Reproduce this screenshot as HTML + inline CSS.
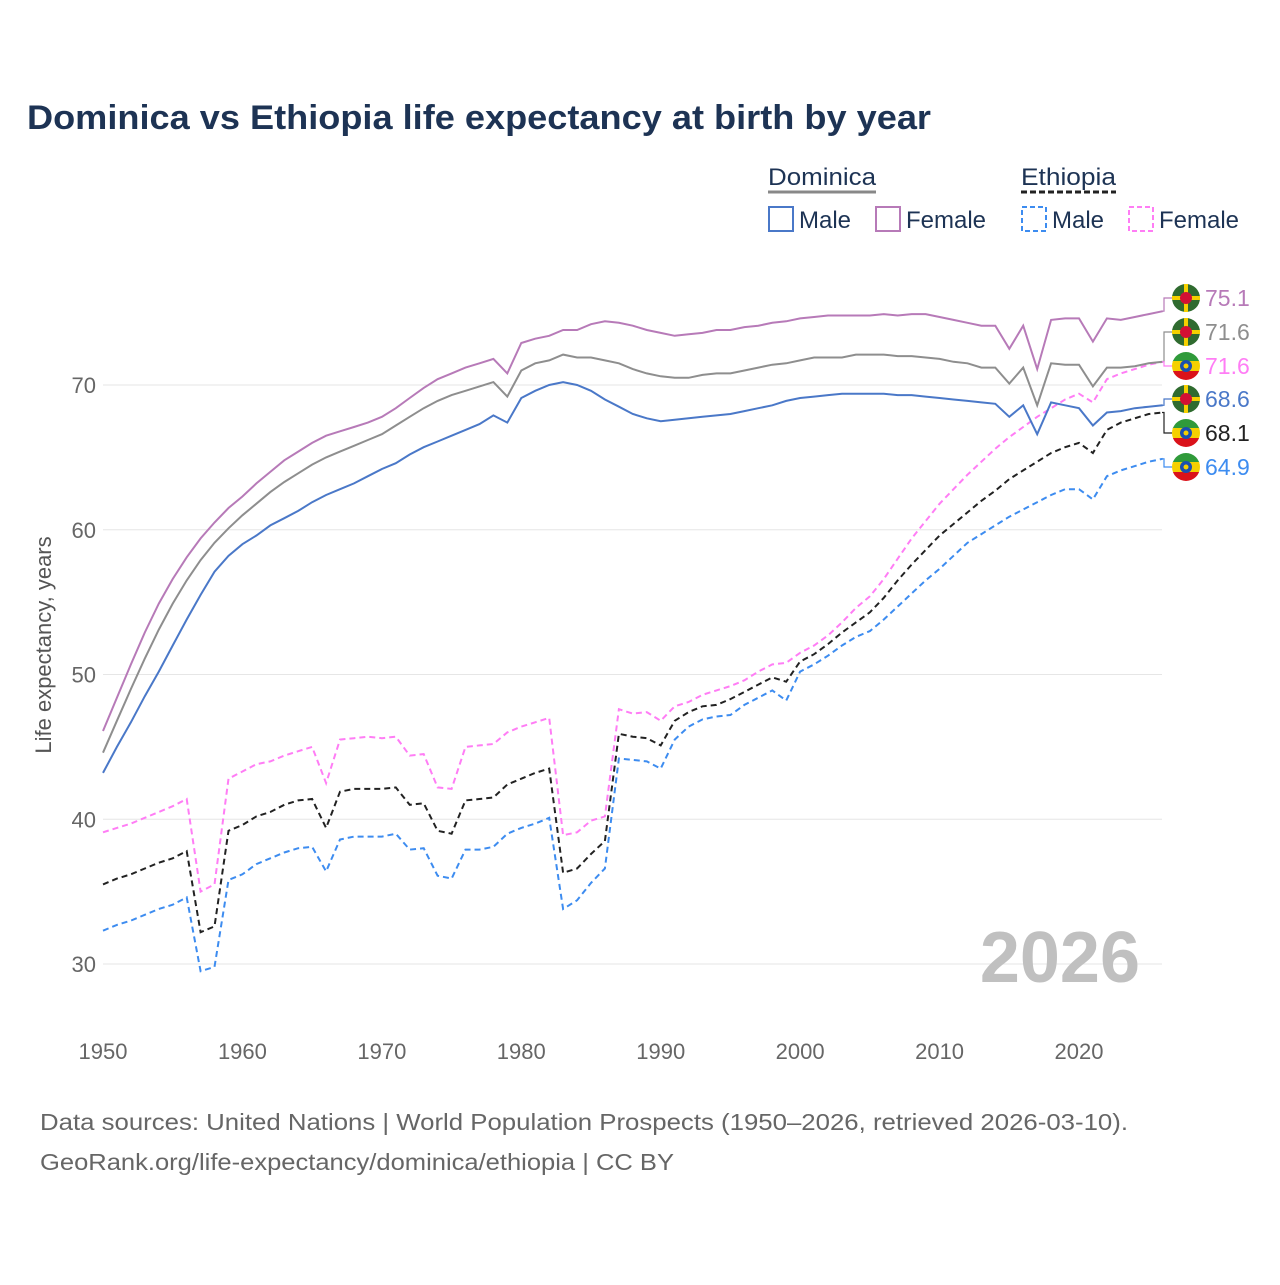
<!DOCTYPE html>
<html><head><meta charset="utf-8">
<style>
body{margin:0;background:#fff;font-family:"Liberation Sans",sans-serif;}
svg text{font-family:"Liberation Sans",sans-serif;}
</style></head>
<body>
<svg id="chart" width="1280" height="1280" viewBox="0 0 1280 1280" xmlns="http://www.w3.org/2000/svg">
<rect width="1280" height="1280" fill="#fff"/>
<text x="27" y="129" font-size="34" font-weight="bold" fill="#1d3354" textLength="904" lengthAdjust="spacingAndGlyphs">Dominica vs Ethiopia life expectancy at birth by year</text>
<g font-size="24" fill="#1d3354">
 <text x="768" y="185" fill="#1d3354" textLength="108" lengthAdjust="spacingAndGlyphs">Dominica</text>
 <line x1="768" y1="192" x2="876" y2="192" stroke="#888" stroke-width="3"/>
 <text x="1021" y="185" fill="#1d3354" textLength="95" lengthAdjust="spacingAndGlyphs">Ethiopia</text>
 <line x1="1021" y1="192" x2="1116" y2="192" stroke="#222" stroke-width="3" stroke-dasharray="6,3"/>
 <g><rect x="769" y="207" width="24" height="24" fill="none" stroke="#4a78c8" stroke-width="2"/><text x="799" y="228">Male</text></g>
 <g><rect x="876" y="207" width="24" height="24" fill="none" stroke="#b77ab8" stroke-width="2"/><text x="906" y="228">Female</text></g>
 <g><rect x="1022" y="207" width="24" height="24" fill="none" stroke="#3d8cf0" stroke-width="2" stroke-dasharray="5,3"/><text x="1052" y="228">Male</text></g>
 <g><rect x="1129" y="207" width="24" height="24" fill="none" stroke="#ff7df5" stroke-width="2" stroke-dasharray="5,3"/><text x="1159" y="228">Female</text></g>
</g>
<g id="grid"></g>
<g id="series"></g>
<g id="labels"></g>
<text transform="translate(51,645) rotate(-90)" text-anchor="middle" font-size="22" fill="#555">Life expectancy, years</text>
<text x="1140" y="982" text-anchor="end" font-size="72" font-weight="bold" fill="#c0c0c0">2026</text>
<text x="40" y="1130" font-size="23" fill="#666" textLength="1088" lengthAdjust="spacingAndGlyphs">Data sources: United Nations | World Population Prospects (1950–2026, retrieved 2026-03-10).</text>
<text x="40" y="1170" font-size="23" fill="#666" textLength="634" lengthAdjust="spacingAndGlyphs">GeoRank.org/life-expectancy/dominica/ethiopia | CC BY</text>
</svg>
<script>
const years=[];for(let y=1950;y<=2026;y++)years.push(y);
const xTicks=[1950,1960,1970,1980,1990,2000,2010,2020];
const yTicks=[30,40,50,60,70];
const domFemale=[46.1,48.4,50.7,52.9,54.9,56.6,58.1,59.4,60.5,61.5,62.3,63.2,64.0,64.8,65.4,66.0,66.5,66.8,67.1,67.4,67.8,68.4,69.1,69.8,70.4,70.8,71.2,71.5,71.8,70.8,72.9,73.2,73.4,73.8,73.8,74.2,74.4,74.3,74.1,73.8,73.6,73.4,73.5,73.6,73.8,73.8,74.0,74.1,74.3,74.4,74.6,74.7,74.8,74.8,74.8,74.8,74.9,74.8,74.9,74.9,74.7,74.5,74.3,74.1,74.1,72.5,74.1,71.1,74.5,74.6,74.6,73.0,74.6,74.5,74.7,74.9,75.1];
const domTotal=[44.6,46.8,49.0,51.1,53.1,54.9,56.5,57.9,59.1,60.1,61.0,61.8,62.6,63.3,63.9,64.5,65.0,65.4,65.8,66.2,66.6,67.2,67.8,68.4,68.9,69.3,69.6,69.9,70.2,69.2,71.0,71.5,71.7,72.1,71.9,71.9,71.7,71.5,71.1,70.8,70.6,70.5,70.5,70.7,70.8,70.8,71.0,71.2,71.4,71.5,71.7,71.9,71.9,71.9,72.1,72.1,72.1,72.0,72.0,71.9,71.8,71.6,71.5,71.2,71.2,70.1,71.2,68.6,71.5,71.4,71.4,69.9,71.2,71.2,71.3,71.5,71.6];
const domMale=[43.2,45.0,46.7,48.5,50.2,52.0,53.8,55.5,57.1,58.2,59.0,59.6,60.3,60.8,61.3,61.9,62.4,62.8,63.2,63.7,64.2,64.6,65.2,65.7,66.1,66.5,66.9,67.3,67.9,67.4,69.1,69.6,70.0,70.2,70.0,69.6,69.0,68.5,68.0,67.7,67.5,67.6,67.7,67.8,67.9,68.0,68.2,68.4,68.6,68.9,69.1,69.2,69.3,69.4,69.4,69.4,69.4,69.3,69.3,69.2,69.1,69.0,68.9,68.8,68.7,67.8,68.6,66.6,68.8,68.6,68.4,67.2,68.1,68.2,68.4,68.5,68.6];
const ethTotal=[35.5,35.9,36.2,36.6,37.0,37.3,37.8,32.2,32.6,39.2,39.6,40.2,40.5,41.0,41.3,41.4,39.4,41.9,42.1,42.1,42.1,42.2,41.0,41.1,39.2,39.0,41.3,41.4,41.5,42.4,42.8,43.2,43.5,36.3,36.6,37.6,38.5,45.9,45.7,45.6,45.1,46.8,47.4,47.8,47.9,48.3,48.8,49.3,49.8,49.5,50.9,51.4,52.1,52.9,53.6,54.3,55.3,56.5,57.6,58.6,59.6,60.4,61.2,62.0,62.7,63.5,64.1,64.7,65.3,65.7,66.0,65.3,66.9,67.4,67.7,68.0,68.1];
const ethMale=[32.3,32.7,33.0,33.4,33.8,34.1,34.6,29.5,29.8,35.8,36.2,36.9,37.3,37.7,38.0,38.1,36.4,38.6,38.8,38.8,38.8,39.0,37.9,38.0,36.1,35.9,37.9,37.9,38.1,39.0,39.4,39.7,40.1,33.8,34.4,35.6,36.6,44.2,44.1,44.0,43.5,45.5,46.4,46.9,47.1,47.2,47.9,48.4,48.9,48.2,50.2,50.7,51.3,52.0,52.6,53.0,53.8,54.7,55.6,56.5,57.3,58.2,59.1,59.7,60.3,60.9,61.4,61.9,62.4,62.8,62.8,62.1,63.7,64.1,64.4,64.7,64.9];
const ethFemale=[39.1,39.4,39.7,40.1,40.5,40.9,41.4,35.0,35.5,42.8,43.3,43.8,44.0,44.4,44.7,45.0,42.5,45.5,45.6,45.7,45.6,45.7,44.4,44.5,42.2,42.1,45.0,45.1,45.2,46.0,46.4,46.7,47.0,38.9,39.1,39.9,40.2,47.6,47.3,47.4,46.8,47.8,48.1,48.6,48.9,49.2,49.6,50.2,50.7,50.8,51.5,52.0,52.7,53.6,54.6,55.4,56.6,58.0,59.4,60.6,61.8,62.8,63.8,64.7,65.6,66.4,67.1,67.8,68.4,69.0,69.4,68.8,70.4,70.8,71.1,71.4,71.6];

const NS='http://www.w3.org/2000/svg';
const X=y=>103+(y-1950)*(976/70);
const Y=v=>964-(v-30)*14.475;
const grid=document.getElementById('grid');
yTicks.forEach(t=>{
 const l=document.createElementNS(NS,'line');
 
 
 l.setAttribute('x1',103);l.setAttribute('x2',1162);l.setAttribute('y1',Y(t));l.setAttribute('y2',Y(t));
 l.setAttribute('stroke','#e6e6e6');l.setAttribute('stroke-width','1');grid.appendChild(l);
 const tx=document.createElementNS(NS,'text');
 
 
 tx.setAttribute('x',96);tx.setAttribute('y',Y(t)+8);tx.setAttribute('text-anchor','end');
 tx.setAttribute('font-size','22');tx.setAttribute('fill','#666');tx.textContent=t;grid.appendChild(tx);
});
xTicks.forEach(t=>{
 const tx=document.createElementNS(NS,'text');
 
 
 tx.setAttribute('x',X(t));tx.setAttribute('y',1059);tx.setAttribute('text-anchor','middle');
 tx.setAttribute('font-size','22');tx.setAttribute('fill','#666');tx.textContent=t;grid.appendChild(tx);
});
const series=[
 {d:ethMale,c:'#3d8cf0',dash:'6,4',n:'ethiopia-male-line'},
 {d:ethTotal,c:'#222',dash:'6,4',n:'ethiopia-total-line'},
 {d:ethFemale,c:'#ff7df5',dash:'6,4',n:'ethiopia-female-line'},
 {d:domMale,c:'#4a78c8',dash:'',n:'dominica-male-line'},
 {d:domTotal,c:'#8e8e8e',dash:'',n:'dominica-total-line'},
 {d:domFemale,c:'#b77ab8',dash:'',n:'dominica-female-line'}
];
const sg=document.getElementById('series');
series.forEach(s=>{
 const p=document.createElementNS(NS,'path');
 
 
 p.setAttribute('d',s.d.map((v,i)=>(i?'L':'M')+X(years[i]).toFixed(1)+','+Y(v).toFixed(1)).join(''));
 p.setAttribute('fill','none');p.setAttribute('stroke',s.c);p.setAttribute('stroke-width','2');
 if(s.dash)p.setAttribute('stroke-dasharray',s.dash);
 sg.appendChild(p);
});
const labels=[
 {d:domFemale,c:'#b77ab8',f:'dom',y:298},
 {d:domTotal,c:'#8e8e8e',f:'dom',y:332},
 {d:ethFemale,c:'#ff7df5',f:'eth',y:366},
 {d:domMale,c:'#4a78c8',f:'dom',y:399},
 {d:ethTotal,c:'#222',f:'eth',y:433},
 {d:ethMale,c:'#3d8cf0',f:'eth',y:467}
];
const lg=document.getElementById('labels');
labels.forEach(l=>{
 const v=l.d[l.d.length-1];const ey=Y(v);
 const g=document.createElementNS(NS,'g');
 
 
 let h='<path d="M1162,'+ey.toFixed(1)+' L1164,'+ey.toFixed(1)+' L1164,'+l.y+' L1172,'+l.y+'" fill="none" stroke="'+l.c+'" stroke-width="1.2"/>';
 const cx=1186,cy=l.y;
 if(l.f==='dom'){
  h+='<circle cx="'+cx+'" cy="'+cy+'" r="14" fill="#2f6b2f"/><rect x="'+(cx-14)+'" y="'+(cy-2)+'" width="28" height="4" fill="#f5d000"/><rect x="'+(cx-2)+'" y="'+(cy-14)+'" width="4" height="28" fill="#f5d000"/><circle cx="'+cx+'" cy="'+cy+'" r="6" fill="#d21034"/>';
 }else{
  h+='<clipPath id="c'+cy+'"><circle cx="'+cx+'" cy="'+cy+'" r="14"/></clipPath><g clip-path="url(#c'+cy+')"><rect x="'+(cx-14)+'" y="'+(cy-14)+'" width="28" height="10" fill="#2f9a3a"/><rect x="'+(cx-14)+'" y="'+(cy-5)+'" width="28" height="10" fill="#f5d000"/><rect x="'+(cx-14)+'" y="'+(cy+5)+'" width="28" height="10" fill="#da121a"/></g><circle cx="'+cx+'" cy="'+cy+'" r="6" fill="#1a4fb0"/><circle cx="'+cx+'" cy="'+cy+'" r="2.5" fill="#f5d000"/>';
 }
 h+='<text x="1205" y="'+(cy+8)+'" font-size="23" fill="'+l.c+'">'+v.toFixed(1)+'</text>';
 g.innerHTML=h;lg.appendChild(g);
});
</script>
</body></html>
